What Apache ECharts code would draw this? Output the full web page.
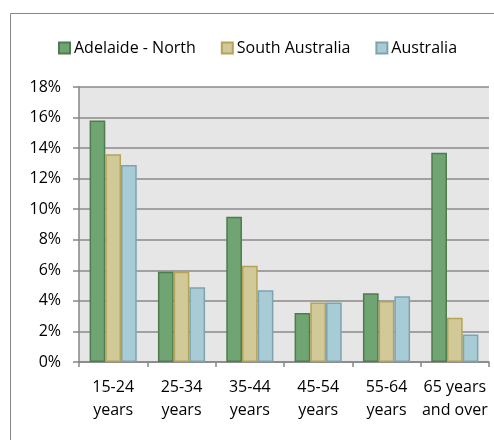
<!DOCTYPE html>
<html>
<head>
<meta charset="utf-8">
<script src="https://cdn.jsdelivr.net/npm/echarts@6/dist/echarts.min.js"></script>
<style>
  html, body { margin: 0; padding: 0; background: #fff; }
  #chart { width: 494px; height: 440px; }
</style>
</head>
<body>
<div id="chart"></div>
<script>
// Age groups and share of population (%) per region
const categories = ['15-24\nyears', '25-34\nyears', '35-44\nyears', '45-54\nyears', '55-64\nyears', '65 years\nand over'];
const adelaideNorth = [15.8, 5.9, 9.5, 3.2, 4.5, 13.7];
const southAustralia = [13.6, 5.9, 6.3, 3.9, 4.0, 2.9];
const australia = [12.9, 4.9, 4.7, 3.9, 4.3, 1.8];
const yTicks = { min: 0, max: 18, interval: 2 };

const FONT = 'Open Sans';
const FONT_SIZE = 16;
const chart = echarts.init(document.getElementById('chart'), null, { renderer: 'canvas' });

function barSeries(name, data, fill, border) {
  return {
    name, type: 'bar', data,
    barGap: '0%', barCategoryGap: '31%',
    itemStyle: { color: fill, borderColor: border, borderWidth: 1.5 }
  };
}

chart.setOption({
  animation: false,
  textStyle: { fontFamily: FONT },
  graphic: [{
    type: 'rect', z: -10,
    shape: { x: 10.5, y: 13.5, width: 520, height: 460 },
    style: { fill: '#fff', stroke: '#888', lineWidth: 1 }
  }],
  legend: {
    top: 40, left: 58, padding: 0,
    itemWidth: 11, itemHeight: 11, itemGap: 25,
    textStyle: { fontFamily: FONT, fontSize: FONT_SIZE, color: '#000', padding: [0, 0, 0, -1] },
    data: [
      { name: 'Adelaide - North', icon: 'rect' },
      { name: 'South Australia', icon: 'rect' },
      { name: 'Australia', icon: 'rect' }
    ]
  },
  grid: { left: 79, top: 87, right: 5, bottom: 78, show: true, backgroundColor: '#e6e6e6', borderWidth: 0 },
  xAxis: {
    type: 'category', data: categories,
    axisLine: { lineStyle: { color: '#868686', width: 1.5 } },
    axisTick: { show: true, length: 5, lineStyle: { color: '#868686', width: 1.5 } },
    axisLabel: { color: '#000', fontFamily: FONT, fontSize: FONT_SIZE, lineHeight: 23, margin: 14, interval: 0 }
  },
  yAxis: {
    type: 'value', min: yTicks.min, max: yTicks.max, interval: yTicks.interval,
    axisLine: { show: true, lineStyle: { color: '#868686', width: 1.5 } },
    axisTick: { show: true, length: 6, lineStyle: { color: '#868686', width: 1.5 } },
    splitLine: { lineStyle: { color: '#8a8a8a', width: 1.5 } },
    axisLabel: { color: '#000', fontFamily: FONT, fontSize: FONT_SIZE, margin: 18, formatter: v => v + '%' }
  },
  series: [
    barSeries('Adelaide - North', adelaideNorth, '#70a573', '#4d7c4f'),
    barSeries('South Australia', southAustralia, '#d1c997', '#b3a458'),
    barSeries('Australia', australia, '#a8ccd6', '#7ea3ae')
  ]
});
</script>
</body>
</html>
